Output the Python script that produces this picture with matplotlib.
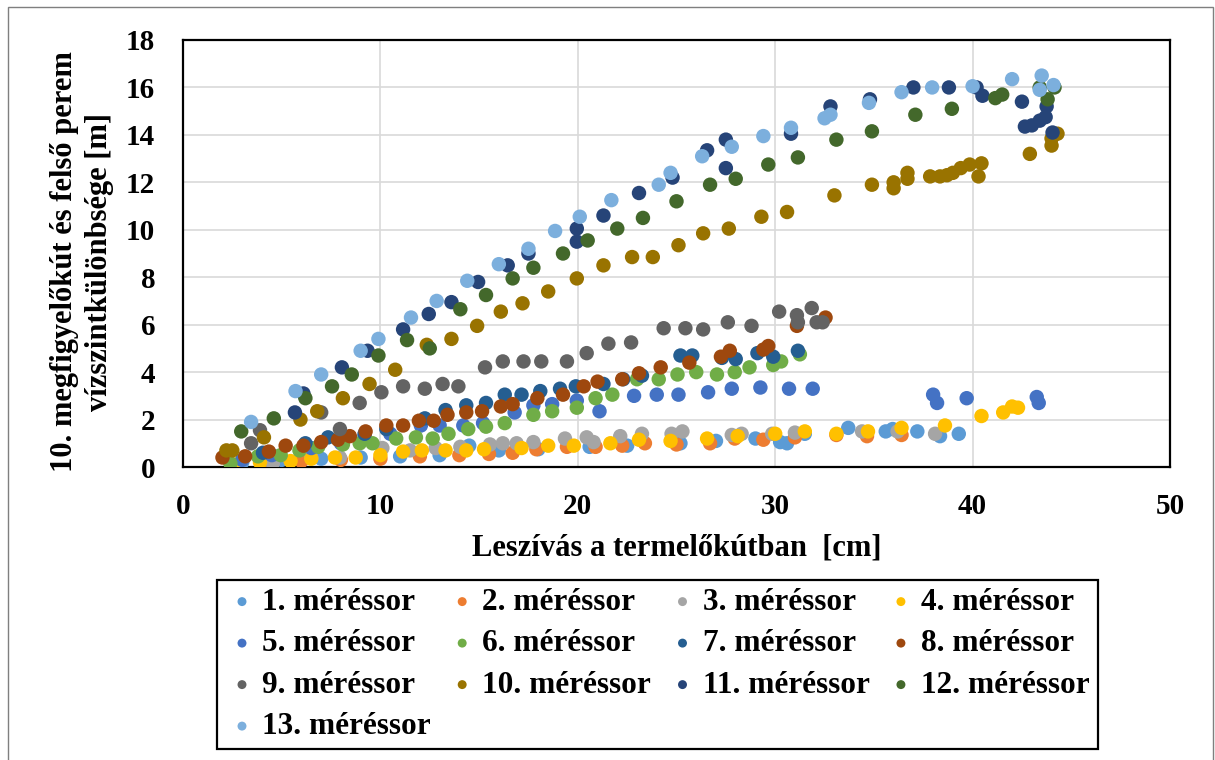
import matplotlib
matplotlib.use("Agg")
import matplotlib.pyplot as plt
from matplotlib.patches import Rectangle

# Measurement series: drawdown in the production well [cm] vs level difference [m]
s1_x = [3.0, 5.0, 7.0, 9.0, 11.0, 13.0, 14.5, 16.0, 18.0, 20.6, 22.5, 25.2, 27.0, 29.0, 30.25, 30.6, 31.5, 33.7, 35.6, 35.95, 37.2, 38.35, 39.3]
s1_y = [0.2, 0.3, 0.35, 0.4, 0.45, 0.5, 0.9, 0.7, 0.75, 0.85, 0.9, 1.0, 1.1, 1.2, 1.05, 1.0, 1.4, 1.65, 1.5, 1.6, 1.5, 1.3, 1.4]

s2_x = [2.5, 4.0, 6.0, 8.0, 10.0, 12.0, 14.0, 15.5, 16.7, 17.9, 19.45, 20.9, 22.25, 23.4, 25.0, 26.7, 27.95, 29.4, 31.0, 33.1, 34.65, 36.4]
s2_y = [0.1, 0.15, 0.25, 0.3, 0.35, 0.45, 0.5, 0.55, 0.6, 0.75, 0.85, 0.85, 0.9, 1.0, 0.95, 1.0, 1.2, 1.15, 1.25, 1.35, 1.3, 1.35]

s3_x = [3.0, 4.55, 6.5, 7.95, 10.1, 11.5, 12.8, 14.05, 15.55, 16.2, 16.9, 17.75, 19.35, 20.45, 20.8, 22.15, 23.25, 24.75, 25.3, 27.8, 28.3, 29.85, 31.0, 34.4, 36.2, 38.1]
s3_y = [0.3, 0.15, 0.4, 0.4, 0.8, 0.7, 0.8, 0.85, 0.95, 1.0, 1.0, 1.05, 1.2, 1.25, 1.05, 1.3, 1.4, 1.4, 1.5, 1.35, 1.4, 1.4, 1.45, 1.5, 1.5, 1.4]

s4_x = [2.6, 3.9, 5.45, 6.5, 7.7, 8.75, 10.0, 11.15, 12.1, 13.3, 14.35, 15.25, 17.15, 18.5, 19.8, 21.65, 23.1, 24.7, 26.55, 28.1, 30.0, 31.5, 33.1, 34.7, 36.4, 38.6, 40.45, 41.55, 42.0, 42.3]
s4_y = [0.1, 0.2, 0.25, 0.35, 0.4, 0.4, 0.5, 0.65, 0.7, 0.7, 0.7, 0.75, 0.8, 0.9, 0.9, 1.0, 1.15, 1.1, 1.2, 1.3, 1.4, 1.5, 1.4, 1.5, 1.65, 1.75, 2.15, 2.3, 2.55, 2.5]

s5_x = [3.0, 4.5, 6.5, 8.0, 9.2, 10.5, 12.05, 13.0, 14.2, 15.2, 16.8, 17.75, 18.7, 19.95, 21.1, 22.85, 24.0, 25.1, 26.6, 27.8, 29.25, 30.7, 31.9, 38.0, 38.2, 39.7, 43.25, 43.35]
s5_y = [0.3, 0.5, 0.8, 1.0, 1.3, 1.4, 1.75, 1.75, 1.75, 1.85, 2.3, 2.6, 2.65, 2.8, 2.35, 3.0, 3.05, 3.05, 3.15, 3.3, 3.35, 3.3, 3.3, 3.05, 2.7, 2.9, 2.95, 2.7]

s6_x = [2.4, 3.8, 4.95, 5.9, 6.85, 8.1, 8.95, 9.6, 10.8, 11.8, 12.65, 13.45, 14.45, 15.35, 16.3, 17.75, 18.7, 19.95, 20.9, 21.75, 23.0, 24.1, 25.05, 26.0, 27.05, 27.95, 28.7, 29.9, 30.3, 31.25]
s6_y = [0.15, 0.45, 0.5, 0.7, 0.85, 0.95, 1.0, 1.0, 1.2, 1.25, 1.2, 1.4, 1.6, 1.7, 1.85, 2.2, 2.35, 2.5, 2.9, 3.05, 3.7, 3.7, 3.9, 4.0, 3.9, 4.0, 4.2, 4.3, 4.45, 4.75]

s7_x = [4.05, 6.2, 7.35, 9.2, 10.3, 12.25, 13.3, 14.35, 15.35, 16.3, 17.15, 18.1, 19.1, 19.9, 21.3, 22.3, 23.25, 25.2, 25.8, 27.3, 28.0, 29.1, 29.9, 31.15]
s7_y = [0.6, 1.0, 1.25, 1.4, 1.6, 2.05, 2.4, 2.6, 2.7, 3.05, 3.05, 3.2, 3.3, 3.4, 3.5, 3.7, 3.85, 4.7, 4.7, 4.6, 4.55, 4.8, 4.65, 4.9]

s8_x = [2.0, 3.15, 4.35, 5.2, 6.1, 7.0, 7.85, 8.45, 9.25, 10.3, 11.15, 11.95, 12.7, 13.4, 14.35, 15.15, 16.1, 16.7, 17.95, 19.25, 20.3, 21.0, 22.25, 23.1, 24.2, 25.65, 27.25, 27.7, 29.4, 29.65, 31.1, 32.55]
s8_y = [0.4, 0.45, 0.65, 0.9, 0.9, 1.05, 1.15, 1.3, 1.5, 1.75, 1.75, 1.95, 1.95, 2.2, 2.3, 2.35, 2.55, 2.65, 2.9, 3.05, 3.4, 3.6, 3.7, 3.95, 4.2, 4.4, 4.65, 4.9, 4.95, 5.1, 5.95, 6.3]

s9_x = [3.45, 3.9, 7.0, 7.95, 8.95, 10.05, 11.15, 12.25, 13.15, 13.95, 15.3, 16.2, 17.25, 18.15, 19.45, 20.45, 21.55, 22.7, 24.35, 25.45, 26.35, 27.6, 28.8, 30.2, 31.1, 31.85, 31.15, 32.1, 32.4]
s9_y = [1.0, 1.55, 2.3, 1.6, 2.7, 3.15, 3.4, 3.3, 3.5, 3.4, 4.2, 4.45, 4.45, 4.45, 4.45, 4.8, 5.2, 5.25, 5.85, 5.85, 5.8, 6.1, 5.95, 6.55, 6.4, 6.7, 6.1, 6.1, 6.1]

s10_x = [2.2, 2.5, 4.1, 5.95, 6.8, 8.1, 9.45, 10.75, 12.35, 13.6, 14.9, 16.1, 17.2, 18.5, 19.95, 21.3, 22.75, 23.8, 25.1, 26.35, 27.65, 29.3, 30.6, 33.0, 34.9, 36.0, 36.0, 36.7, 36.7, 37.85, 38.35, 38.7, 39.0, 39.4, 39.85, 40.3, 40.45, 42.9, 44.0, 44.0, 44.3]
s10_y = [0.7, 0.7, 1.25, 2.0, 2.35, 2.9, 3.5, 4.1, 5.15, 5.4, 5.95, 6.55, 6.9, 7.4, 7.95, 8.5, 8.85, 8.85, 9.35, 9.85, 10.05, 10.55, 10.75, 11.45, 11.9, 12.0, 11.75, 12.4, 12.15, 12.25, 12.25, 12.3, 12.4, 12.6, 12.75, 12.25, 12.8, 13.2, 13.55, 13.85, 14.05]

s11_x = [5.67, 6.1, 8.05, 9.35, 11.15, 12.45, 13.6, 14.95, 16.45, 17.5, 19.95, 19.95, 21.3, 23.1, 24.8, 26.55, 27.5, 27.5, 30.8, 32.8, 34.8, 37.0, 38.8, 40.2, 40.5, 42.5, 42.65, 43.0, 43.4, 43.7, 43.75, 44.05]
s11_y = [2.3, 3.1, 4.2, 4.9, 5.8, 6.45, 6.95, 7.8, 8.5, 9.0, 10.05, 9.5, 10.6, 11.55, 12.2, 13.35, 13.8, 12.6, 14.05, 15.2, 15.5, 16.0, 16.0, 16.0, 15.65, 15.4, 14.35, 14.4, 14.6, 14.75, 15.2, 14.1]

s12_x = [2.95, 4.6, 6.2, 7.55, 8.55, 9.9, 11.35, 12.5, 14.05, 15.35, 16.7, 17.75, 19.25, 20.5, 22.0, 23.3, 25.0, 26.7, 28.0, 29.65, 31.15, 33.1, 34.9, 37.1, 38.95, 41.15, 41.5, 43.8, 44.15, 43.4]
s12_y = [1.5, 2.05, 2.9, 3.4, 3.9, 4.7, 5.35, 5.0, 6.65, 7.25, 7.95, 8.4, 9.0, 9.55, 10.05, 10.5, 11.2, 11.9, 12.15, 12.75, 13.05, 13.8, 14.15, 14.85, 15.1, 15.55, 15.7, 15.5, 16.0, 16.0]

s13_x = [3.45, 5.7, 7.0, 9.0, 9.9, 11.55, 12.85, 14.4, 16.0, 17.5, 18.85, 20.1, 21.7, 24.1, 24.7, 26.3, 27.8, 29.4, 30.8, 32.5, 32.8, 34.75, 36.4, 37.95, 40.0, 42.0, 43.4, 43.5, 44.1]
s13_y = [1.9, 3.2, 3.9, 4.9, 5.4, 6.3, 7.0, 7.85, 8.55, 9.2, 9.95, 10.55, 11.25, 11.9, 12.4, 13.1, 13.5, 13.95, 14.3, 14.7, 14.85, 15.35, 15.8, 16.0, 16.05, 16.35, 15.9, 16.5, 16.1]

seriesX = [s1_x, s2_x, s3_x, s4_x, s5_x, s6_x, s7_x, s8_x, s9_x, s10_x, s11_x, s12_x, s13_x]
seriesY = [s1_y, s2_y, s3_y, s4_y, s5_y, s6_y, s7_y, s8_y, s9_y, s10_y, s11_y, s12_y, s13_y]
seriesNames = ["{}. méréssor".format(i) for i in range(1, 14)]
seriesColors = ["#5B9BD5", "#ED7D31", "#A5A5A5", "#FFC000", "#4472C4", "#70AD47", "#255E91",
                "#9E480E", "#636363", "#997300", "#264478", "#43682B", "#7CAFDD"]

xTicks = [0, 10, 20, 30, 40, 50]
yTicks = [0, 2, 4, 6, 8, 10, 12, 14, 16, 18]

plt.rcParams['font.family'] = ['Liberation Serif', 'DejaVu Serif']
plt.rcParams['font.weight'] = 'bold'

fig = plt.figure(figsize=(12.15, 7.6), dpi=100)
ax = fig.add_axes([183/1215, 1 - 467/760, (1170-183)/1215, (467-40)/760])

handles = []
for i in range(13):
    h = ax.scatter(seriesX[i], seriesY[i], s=108, color=seriesColors[i], edgecolors='none',
                   label=seriesNames[i], zorder=3 + i * 0.01)
    handles.append(h)

ax.set_xlim(0, 50)
ax.set_ylim(0, 18)
ax.set_xticks(xTicks)
ax.set_yticks(yTicks)
ax.tick_params(axis='both', length=0, labelsize=21)
ax.tick_params(axis='y', pad=20)
ax.tick_params(axis='x', pad=19)
ax.grid(True, color='#D9D9D9', linewidth=1.2, zorder=0)
ax.set_axisbelow(True)
for sp in ax.spines.values():
    sp.set_linewidth(1.6)
    sp.set_color('black')

ax.set_xlabel("Leszívás a termelőkútban  [cm]", fontsize=22, fontweight='bold')
ax.xaxis.set_label_coords(0.5, -(548 - 467) / 427)
ax.xaxis.label.set_va('center')
ax.set_ylabel("10. megfigyelőkút és felső perem\nvízszintkülönbsége [m]", fontsize=22,
              fontweight='bold', linespacing=1.3)
ax.yaxis.set_label_coords(-(183 - 82) / 987, (467 - 262) / 427)
ax.yaxis.label.set_va('center')

# legend filled column by column, so reorder to read row by row
order = [0, 4, 8, 12, 1, 5, 9, 2, 6, 10, 3, 7, 11]
leg = fig.legend([handles[k] for k in order], [seriesNames[k] for k in order],
                 ncol=4, loc='upper left', bbox_to_anchor=(217/1215, 1 - 580/760),
                 bbox_transform=fig.transFigure, borderaxespad=0, fancybox=False,
                 edgecolor='black', fontsize=22.5, markerscale=0.62, handlelength=1.1,
                 handletextpad=0.1, columnspacing=0.45, labelspacing=0.4, borderpad=0.25,
                 framealpha=1)
leg.get_frame().set_linewidth(1.6)

# chart area border
fig.add_artist(Rectangle((8/1215, -0.05), (1213-8)/1215, 1.05 - 7/760,
                         transform=fig.transFigure, fill=False, edgecolor='#7F7F7F',
                         linewidth=1.0))

fig.savefig("out.png", dpi=100)
